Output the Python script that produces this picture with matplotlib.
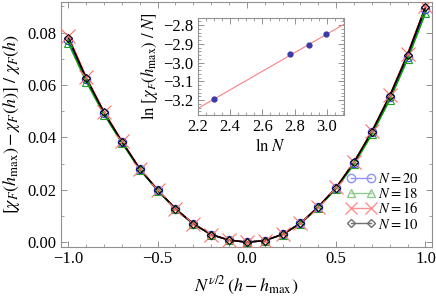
import numpy as np
import matplotlib
matplotlib.use('Agg')
import matplotlib.pyplot as plt
from matplotlib.lines import Line2D
from matplotlib.ticker import MultipleLocator

plt.rcParams['font.family'] = ['Liberation Serif', 'DejaVu Serif']
plt.rcParams['mathtext.fontset'] = 'stix'

# scaled field N^(nu/2) (h - h_max)
x = np.round(np.arange(-1.0, 1.01, 0.1), 2)

# [chi_F(h_max) - chi_F(h)] / chi_F(h) for each N
y_n20 = [0.0772, 0.0622, 0.0492, 0.0382, 0.0279, 0.0199, 0.0127, 0.0070, 0.0029, 0.0008, 0.0,
         0.0006, 0.0030, 0.0072, 0.0134, 0.0207, 0.0302, 0.0419, 0.0553, 0.0708, 0.0888]
y_n18 = [0.0760, 0.0613, 0.0487, 0.0379, 0.0277, 0.0197, 0.0126, 0.0069, 0.0029, 0.0008, 0.0,
         0.0006, 0.0029, 0.0071, 0.0132, 0.0204, 0.0297, 0.0411, 0.0543, 0.0698, 0.0874]
y_n16 = [0.0785, 0.0630, 0.0498, 0.0386, 0.0281, 0.0200, 0.0128, 0.0071, 0.0029, 0.0008, 0.0,
         0.0006, 0.0030, 0.0072, 0.0135, 0.0209, 0.0306, 0.0424, 0.0560, 0.0719, 0.0900]
y_n10 = [0.0779, 0.0626, 0.0495, 0.0384, 0.0280, 0.0199, 0.0127, 0.0070, 0.0029, 0.0008, 0.0,
         0.0006, 0.0030, 0.0072, 0.0135, 0.0208, 0.0305, 0.0422, 0.0558, 0.0715, 0.0897]

# inset: ln N vs ln[chi_F(h_max)/N]
N_vals = np.array([10, 16, 18, 20])
ln_chi = np.array([-3.195, -2.956, -2.907, -2.848])

fig = plt.figure(figsize=(4.36, 3.03), dpi=100)
ax = fig.add_axes([0.139, 0.186, 0.852, 0.807])

frame_col = '#909090'

def style_axes(a, size):
    for s in a.spines.values():
        s.set_color(frame_col)
        s.set_linewidth(0.8)
    a.tick_params(which='both', direction='in', top=True, right=True,
                  color=frame_col, labelsize=size, pad=3)
    a.tick_params(which='major', length=4, width=0.7)
    a.tick_params(which='minor', length=2, width=0.6)

series = [
    (y_n20, '#0000ff', 'o', '#3a3aff', 6, 'N20'),
    (y_n18, '#00a000', '^', '#20a020', 6, 'N18'),
    (y_n16, '#ff0000', 'x', '#ff7070', 10, 'N16'),
    (y_n10, '#000000', 'D', '#000000', 4.5, 'N10'),
]
for i, (yy, lc, m, mc, ms, _) in enumerate(series):
    ax.plot(x, yy, '-', color=lc, lw=1.1, zorder=2 + i)
for i, (yy, lc, m, mc, ms, _) in enumerate(series):
    ax.plot(x, yy, ls='none', marker=m, ms=ms, mfc='none', mec=mc, mew=0.8, zorder=7 + i)

ax.set_xlim(-1.043, 1.037)
ax.set_ylim(-0.0017, 0.0916)
ax.xaxis.set_major_locator(MultipleLocator(0.5))
ax.xaxis.set_minor_locator(MultipleLocator(0.1))
ax.yaxis.set_major_locator(MultipleLocator(0.02))
ax.yaxis.set_minor_locator(MultipleLocator(0.01))
ax.xaxis.set_major_formatter(plt.FuncFormatter(lambda v, p: '%.1f' % v if v >= 0 else '\u2212%.1f' % -v))
ax.yaxis.set_major_formatter(plt.FuncFormatter(lambda v, p: '%.2f' % v))
style_axes(ax, 12)

ax.set_xlabel(r'$N^{\nu/2}\,(h - h_{\max})$', fontsize=13, labelpad=6)
ax.set_ylabel(r'$[\chi_F(h_{\max}) - \chi_F(h)]\ /\ \chi_F(h)$', fontsize=13, labelpad=4)

handles = [
    Line2D([], [], color='#9090ff', marker='o', mfc='none', mec='#9090ff', ms=6, lw=1),
    Line2D([], [], color='#90c890', marker='^', mfc='none', mec='#90c890', ms=6, lw=1),
    Line2D([], [], color='#ff9090', marker='x', mfc='none', mec='#ff9090', ms=8, lw=1),
    Line2D([], [], color='#707070', marker='D', mfc='none', mec='#707070', ms=4.5, lw=1),
]
labels = [r'$N = %d$' % n for n in (20, 18, 16, 10)]
ax.legend(handles, labels, loc='lower right', bbox_to_anchor=(0.99, 0.02), frameon=False,
          fontsize=10.5, numpoints=2, handlelength=2.0, handletextpad=0.15,
          labelspacing=0.02, borderpad=0.2)

# inset
ins = fig.add_axes([0.4534, 0.6205, 0.3356, 0.3211])
lnN = np.log(N_vals)
fit = np.polyfit(lnN, ln_chi, 1)
xx = np.array([2.2, 3.105])
ins.plot(xx, np.polyval(fit, xx), color='#ff8080', lw=0.8)
ins.plot(lnN, ln_chi, 'o', color='#3a3aa8', ms=3.5)
ins.set_xlim(2.2, 3.105)
ins.set_ylim(-3.28, -2.76)
ins.xaxis.set_major_locator(MultipleLocator(0.2))
ins.xaxis.set_minor_locator(MultipleLocator(0.05))
ins.yaxis.set_major_locator(MultipleLocator(0.1))
ins.yaxis.set_minor_locator(MultipleLocator(0.02))
ins.xaxis.set_major_formatter(plt.FuncFormatter(lambda v, p: '%.1f' % v))
ins.yaxis.set_major_formatter(plt.FuncFormatter(lambda v, p: '\u2212%.1f' % -v))
style_axes(ins, 12)
ins.set_xlabel(r'$\ln\,N$', fontsize=12, labelpad=2)
ins.set_ylabel(r'$\ln\,[\chi_F(h_{\max})\ /\ N]$', fontsize=12, labelpad=2)

fig.savefig('out.png', dpi=100)
